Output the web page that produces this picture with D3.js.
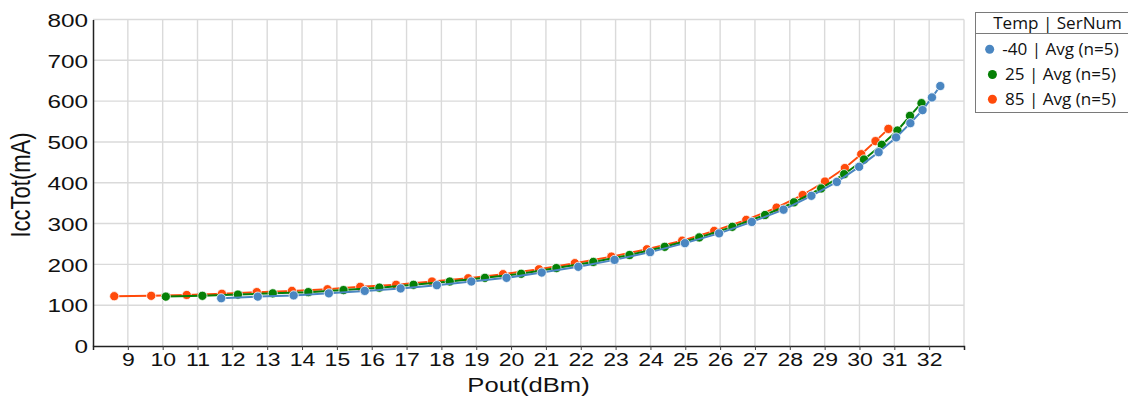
<!DOCTYPE html>
<html>
<head>
<meta charset="utf-8">
<script src="https://cdn.jsdelivr.net/npm/d3@7"></script>
<style>
  body { margin: 0; background: #fff; }
  svg { display: block; }
  text { font-family: "Liberation Sans", Arial, sans-serif; fill: #111; }
  .legend text { font-family: "Open Sans", "Noto Sans", sans-serif; }
</style>
</head>
<body>
<div id="chart"></div>
<script>
// series
const seriesNames = ['-40 | Avg (n=5)', '25 | Avg (n=5)', '85 | Avg (n=5)'];
const seriesColors = ['#4a86c1', '#068006', '#ff4a0a'];

const poutM40 = [11.68, 12.73, 13.76, 14.77, 15.80, 16.83, 17.87, 18.86, 19.87, 20.88, 21.93, 22.97, 23.99,
  24.99, 25.97, 26.91, 27.82, 28.62, 29.35, 29.99, 30.55, 31.05, 31.46, 31.81, 32.08, 32.32];
const iccM40 = [117, 121, 124, 129, 135, 141, 149, 158, 167, 180, 194, 211, 230,
  252, 276, 304, 334, 368, 402, 439, 475, 511, 546, 578, 609, 637];

const pout25 = [10.09, 11.14, 12.16, 13.16, 14.18, 15.19, 16.22, 17.20, 18.24, 19.25, 20.29, 21.30, 22.36,
  23.40, 24.41, 25.40, 26.35, 27.29, 28.12, 28.90, 29.56, 30.13, 30.64, 31.09, 31.45, 31.78];
const icc25 = [121, 123, 126, 129, 132, 137, 143, 150, 158, 167, 177, 191, 206,
  223, 243, 266, 292, 321, 352, 386, 421, 457, 493, 528, 564, 595];

const pout85 = [8.61, 9.67, 10.69, 11.70, 12.70, 13.71, 14.73, 15.67, 16.70, 17.73, 18.77, 19.77, 20.80,
  21.83, 22.88, 23.90, 24.91, 25.83, 26.75, 27.62, 28.37, 29.01, 29.58, 30.05, 30.46, 30.83];
const icc85 = [122, 123, 125, 128, 132, 135, 139, 145, 150, 158, 166, 176, 188,
  203, 219, 237, 258, 282, 309, 339, 370, 403, 436, 470, 502, 532];

const xTicks = d3.range(9, 33);
const yTicks = d3.range(0, 900, 100);
const xDomain = [8, 33];
const yDomain = [0, 800];

const W = 1128, H = 396;
const margin = { left: 93, right: 164, top: 19.5, bottom: 50 };
const sx = 1.28; // text in the picture is stretched horizontally

const svg = d3.select('#chart').append('svg')
  .attr('width', W)
  .attr('height', H);

const x = d3.scaleLinear().domain(xDomain).range([margin.left, W - margin.right]);
const y = d3.scaleLinear().domain(yDomain).range([H - margin.bottom, margin.top]);

// grid
const grid = svg.append('g').attr('stroke', '#dadada').attr('stroke-width', 1.4);
grid.selectAll('.vg').data(d3.range(9, 34)).enter().append('line')
  .attr('x1', d => x(d)).attr('x2', d => x(d))
  .attr('y1', y(800)).attr('y2', y(0));
grid.selectAll('.hg').data(yTicks.slice(1)).enter().append('line')
  .attr('x1', x(8)).attr('x2', x(33))
  .attr('y1', d => y(d)).attr('y2', d => y(d));

// axes
const xAxis = svg.append('g')
  .attr('transform', `translate(0,${y(0)})`)
  .call(d3.axisBottom(x).tickValues(xTicks).tickSize(4).tickFormat(d3.format('d')));
xAxis.select('.domain').attr('stroke', '#222').attr('stroke-width', 1.5);
xAxis.selectAll('.tick line').attr('stroke', '#444');
xAxis.selectAll('.tick text')
  .attr('y', 0).attr('dy', null)
  .attr('font-size', 18)
  .attr('transform', `translate(0,20) scale(${sx},1)`);

const yAxis = svg.append('g')
  .attr('transform', `translate(${x(8)},0)`)
  .call(d3.axisLeft(y).tickValues(yTicks).tickSize(0).tickPadding(5));
yAxis.select('.domain').attr('stroke', '#222').attr('stroke-width', 1.5);
yAxis.selectAll('.tick text')
  .attr('x', 0).attr('dy', null)
  .attr('font-size', 19)
  .attr('transform', `translate(-5,6.8) scale(${sx},1)`);
svg.selectAll('.tick text').attr('fill', '#111');

// axis titles
svg.append('text')
  .attr('text-anchor', 'middle')
  .attr('font-size', 20)
  .attr('transform', `translate(${x(20.5)},392) scale(${sx},1)`)
  .text('Pout(dBm)');

svg.append('text')
  .attr('text-anchor', 'middle')
  .attr('font-size', 22)
  .attr('transform', `translate(30,185) rotate(-90) scale(1,${sx})`)
  .text('IccTot(mA)');

// series
const series = [
  { name: seriesNames[0], color: seriesColors[0], xs: poutM40, ys: iccM40 },
  { name: seriesNames[1], color: seriesColors[1], xs: pout25, ys: icc25 },
  { name: seriesNames[2], color: seriesColors[2], xs: pout85, ys: icc85 }
];

const line = d3.line().x(d => x(d[0])).y(d => y(d[1]));

series.slice().reverse().forEach(s => {
  const pts = s.xs.map((v, i) => [v, s.ys[i]]);
  const g = svg.append('g');
  g.append('path')
    .datum(pts)
    .attr('d', line)
    .attr('fill', 'none')
    .attr('stroke', s.color)
    .attr('stroke-width', 2);
  g.selectAll('circle').data(pts).enter().append('circle')
    .attr('cx', d => x(d[0]))
    .attr('cy', d => y(d[1]))
    .attr('r', 4.6)
    .attr('fill', s.color)
    .attr('stroke', 'rgba(255,255,255,0.75)')
    .attr('stroke-width', 1);
});

// legend
const lsx = 1.07;
const legend = svg.append('g').attr('class', 'legend');
legend.append('rect')
  .attr('x', 975.5).attr('y', 12.5)
  .attr('width', 200).attr('height', 100)
  .attr('fill', '#fff').attr('stroke', '#7a7a7a');
legend.append('line')
  .attr('x1', 975.5).attr('x2', 1128)
  .attr('y1', 33.5).attr('y2', 33.5)
  .attr('stroke', '#7a7a7a');
legend.append('text')
  .attr('text-anchor', 'middle')
  .attr('font-size', 16)
  .attr('transform', `translate(1057.5,29) scale(${lsx},1)`)
  .text('Temp | SerNum');

const legendY = [49.3, 74.5, 99.3];
series.forEach((s, i) => {
  const row = legend.append('g');
  const t = row.append('text')
    .attr('font-size', 16)
    .text(s.name);
  const tw = t.node().getComputedTextLength() * lsx;
  const total = 12.5 + tw + 4.5;
  const left = 1052 - total / 2;
  row.append('circle')
    .attr('cx', left + 4.5).attr('cy', legendY[i])
    .attr('r', 4.5)
    .attr('fill', s.color);
  t.attr('transform', `translate(${left + 4.5 + 12.5},${legendY[i] + 5.8}) scale(${lsx},1)`);
});
</script>
</body>
</html>
